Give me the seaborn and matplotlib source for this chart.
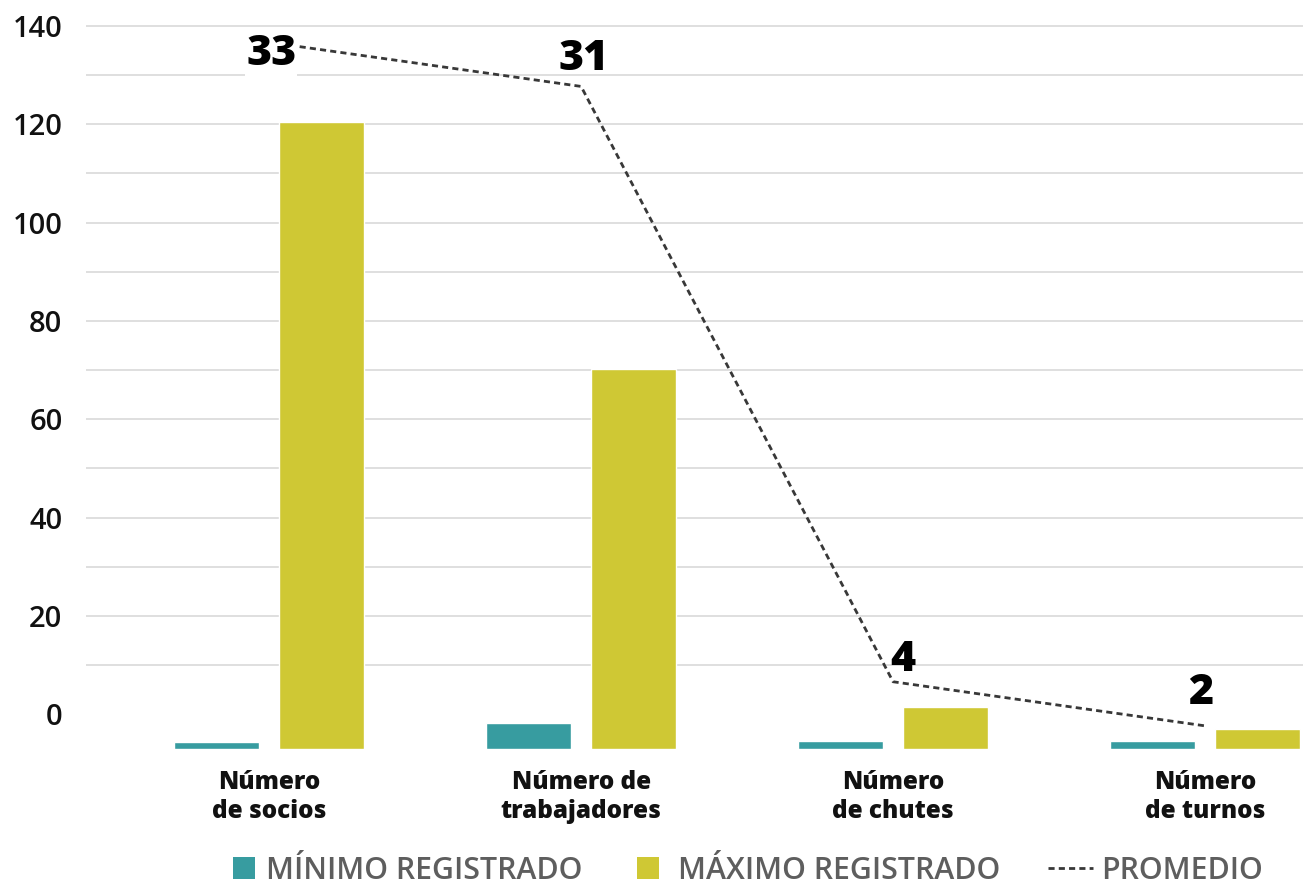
import matplotlib
matplotlib.use("Agg")
import matplotlib.pyplot as plt
import seaborn as sns
import pandas as pd
from matplotlib.patches import Patch
from matplotlib.lines import Line2D

# ---------------- data ----------------
categories = ["Número\nde socios", "Número de\ntrabajadores", "Número\nde chutes", "Número\nde turnos"]
minimo = [1.4, 5.3, 1.6, 1.6]
maximo = [127.4, 77.3, 8.5, 4.1]
promedio = [33, 31, 4, 2]
y_ticks = [0, 20, 40, 60, 80, 100, 120, 140]
grid_ticks = [10, 20, 30, 40, 50, 60, 70, 80, 90, 100, 110, 120, 130, 140]
series_names = ["MÍNIMO REGISTRADO", "MÁXIMO REGISTRADO", "PROMEDIO"]
label_offsets = [(1.5, -8.5), (2, 20), (7, 16), (-3, 24)]

TEAL = "#379ca0"
YELLOW = "#cfc834"
LINE = "#383838"
TEXT = "#111111"
LEG = "#5e5e5e"

sns.set_theme(style="white")
plt.rcParams["font.family"] = ["Open Sans", "DejaVu Sans"]

W, H = 1303, 884
fig = plt.figure(figsize=(W / 100, H / 100), dpi=100)
ax = fig.add_axes([86 / W, 1 - 749 / H, 1 - 86 / W, 749 / H])

# primary axis: labels + grid
ax.set_ylim(-7.06, 145.29)
ax.set_yticks(y_ticks)
ax.set_yticks(grid_ticks, minor=True)
ax.yaxis.remove_overlapping_locs = False
ax.grid(False)
ax.grid(True, which="minor", axis="y", color="#dcdcdc", linewidth=1.3)
ax.tick_params(axis="y", which="both", length=0, pad=17, labelsize=21, labelcolor=TEXT)
for lab in ax.get_yticklabels():
    lab.set_fontweight("semibold")
for s in ax.spines.values():
    s.set_visible(False)

# bars
ax_b = ax.twinx()
df = pd.DataFrame({
    "cat": categories * 2,
    "serie": [series_names[0]] * len(categories) + [series_names[1]] * len(categories),
    "valor": minimo + maximo,
})
sns.barplot(data=df, x="cat", y="valor", hue="serie", palette=[TEAL, YELLOW],
            width=0.673, gap=0.19, saturation=1, ax=ax_b, legend=False, errorbar=None)
ax_b.set_ylim(0, 152.3)
ax_b.set_yticks([])
ax_b.set_ylabel("")
ax_b.set_xlabel("")
for s in ax_b.spines.values():
    s.set_visible(False)

# average line
ax_l = ax.twinx()
idx = list(range(len(categories)))
sns.lineplot(x=idx, y=promedio, ax=ax_l, color=LINE, linewidth=2.0,
             linestyle=(0, (2.2, 1.5)))
ax_l.set_ylim(0.95, 34.92)
ax_l.set_yticks([])
for s in ax_l.spines.values():
    s.set_visible(False)
for i, (v, off) in enumerate(zip(promedio, label_offsets)):
    t = ax_l.annotate(str(v), (i, v), xytext=off, textcoords="offset points",
                      ha="center", va="center", fontsize=31, fontweight="heavy",
                      color="black")
    if i == 0:
        t.set_bbox(dict(facecolor="white", edgecolor="none", pad=0.5))

ax.set_xlim(-0.587, 3.314)
ax.set_xticks(idx)
ax.set_xticklabels(categories, fontsize=17.5, fontweight="heavy", linespacing=1.22, color=TEXT)
ax.tick_params(axis="x", length=0, pad=15)
ax.set_xlabel("")

# legends
yl = 1 - 871 / H
common = dict(loc="center left", frameon=False, borderpad=0, borderaxespad=0,
              labelcolor=LEG, prop={"size": 21.8, "weight": "semibold"})
fig.legend(handles=[Patch(facecolor=TEAL, edgecolor="none")], labels=[series_names[0]],
           bbox_to_anchor=(233 / W, yl), handlelength=0.74, handleheight=0.74,
           handletextpad=0.34, **common)
fig.legend(handles=[Patch(facecolor=YELLOW, edgecolor="none")], labels=[series_names[1]],
           bbox_to_anchor=(637 / W, yl), handlelength=0.74, handleheight=0.74,
           handletextpad=0.6, **common)
fig.legend(handles=[Line2D([], [], color=LINE, linewidth=2.0, linestyle=(0, (2.2, 1.5)))],
           labels=[series_names[2]],
           bbox_to_anchor=(1048 / W, yl), handlelength=1.5, handletextpad=0.27, **common)

fig.savefig("out.png", dpi=100)
